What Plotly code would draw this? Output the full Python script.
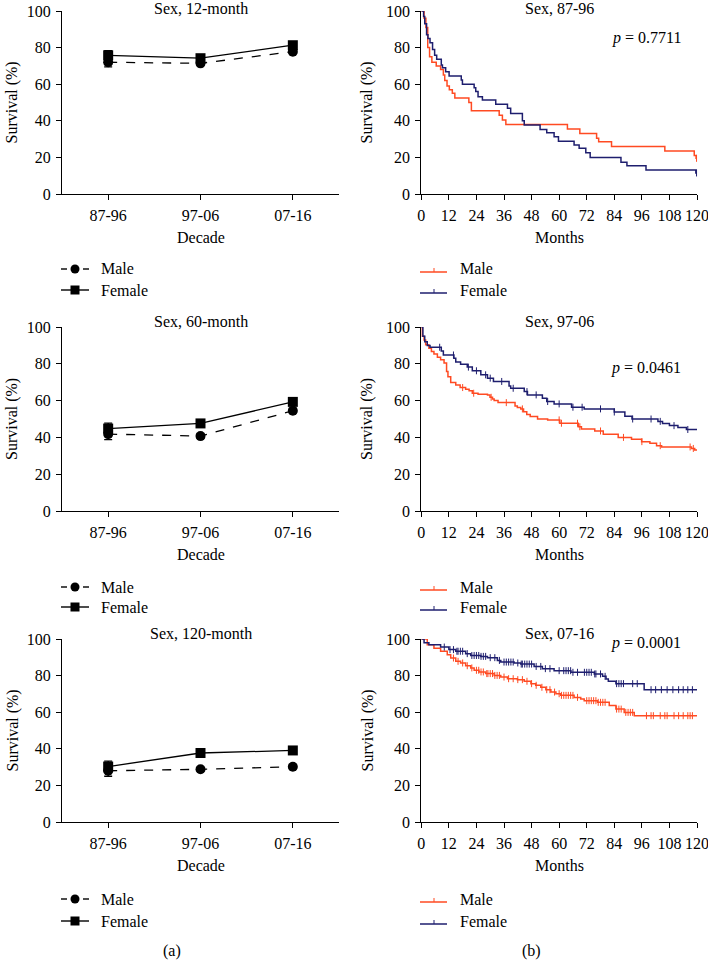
import plotly.graph_objects as go

# ---------------- data ----------------
decades = ["87-96", "97-06", "07-16"]

male_12 = [72.0, 71.4, 77.8]
female_12 = [75.8, 74.2, 81.3]
male_12_err = [2.5, 1.0, 1.0]
female_12_err = [2.5, 1.0, 1.2]

male_60 = [41.8, 40.7, 54.5]
female_60 = [44.8, 47.6, 59.3]
male_60_err = [3.0, 1.2, 1.2]
female_60_err = [3.0, 1.2, 1.5]

male_120 = [28.0, 28.8, 30.2]
female_120 = [30.3, 37.7, 39.1]
male_120_err = [3.0, 1.0, 1.2]
female_120_err = [3.0, 1.2, 1.5]

# Kaplan-Meier steps: (time in months, survival %)
km1_male_t = [0, 1.2, 2.0, 2.8, 3.6, 4.6, 6.5, 8.4, 9.6, 10.2, 11.2, 12.2, 13.5, 14.6, 20.7, 21.8,
              33.9, 35.3, 36.8, 63.6, 69.0, 76.3, 77.2, 82.8, 106.0, 118.8, 119.6, 120]
km1_male_s = [100, 96, 91, 80, 75, 72, 70, 68, 65, 62, 59, 57, 55, 52.5, 50, 45.5,
              43, 40.5, 38, 35.5, 33, 30.5, 28.5, 26, 23.5, 21, 19.5, 19.5]
km1_female_t = [0, 1.0, 1.5, 2.3, 2.9, 3.8, 4.9, 5.8, 6.7, 8.7, 9.2, 10.6, 12.1, 17.4, 17.9, 23.0,
                23.7, 24.7, 26.6, 32.4, 37.5, 38.9, 44.0, 44.8, 51.7, 54.6, 57.8, 59.7, 66.5, 68.7,
                71.6, 73.5, 86.9, 89.5, 97.8, 101.0, 119.5, 120]
km1_female_s = [100, 97, 93, 87, 85, 82.7, 79, 75.8, 73.6, 70.5, 69, 66.8, 64.5, 62.3, 60, 58,
                56, 53.2, 51.4, 49, 46.8, 44, 40, 37.7, 35.3, 33.5, 31.3, 28.8, 26.8, 25,
                22.6, 20, 17.3, 15.5, 13.1, 13.1, 11.5, 11.5]
km1_male_cens = [119.8]
km1_female_cens = [119.8]

km2_male_t = [0, 0.4, 1.2, 1.9, 3.3, 4.4, 5.5, 7.0, 8.4, 9.9, 11.0, 11.6, 12.8, 15.0, 16.9, 19.3,
              20.8, 22.2, 24.7, 28.8, 29.9, 31.0, 31.7, 33.4, 40.8, 41.8, 43.3, 44.5, 45.9, 47.4,
              50.6, 55.0, 60.3, 68.3, 69.7, 75.5, 79.2, 85.7, 91.5, 95.9, 99.5, 102.4, 104.6,
              117.6, 119.0, 120]
km2_male_s = [100, 95, 93, 90.4, 88.5, 86.7, 85.3, 83.6, 82.2, 80.4, 75.8, 73, 69.8, 68.5, 67.1, 66.2,
              65.3, 64, 63.5, 63, 61.8, 60.9, 60, 58.9, 57.1, 56.2, 55.5, 54, 52.5, 51.3,
              50, 49.5, 47.7, 45.8, 44.6, 43.5, 41.7, 40, 39, 37.7, 36.8, 35.5, 34.8,
              34, 33.2, 33.2]
km2_female_t = [0, 0.7, 1.5, 2.6, 3.8, 8.7, 9.6, 14.2, 15.0, 17.1, 20.0, 22.2, 25.9, 28.8, 31.4,
                38.2, 38.9, 44.8, 46.2, 52.7, 54.6, 57.8, 65.4, 70.9, 84.0, 88.6, 91.7, 103.0,
                105.0, 108.0, 111.7, 115.4, 120]
km2_female_s = [100, 95, 92, 90, 89, 87, 84.8, 83, 81, 79.8, 78.2, 76.2, 74, 72.2, 70.4,
                68, 66.7, 64.9, 63.1, 61.3, 59.5, 58.2, 56.4, 55.5, 53.8, 51.5, 50, 48.7,
                47.5, 46.4, 45.4, 44.3, 44.3]
km2_male_cens = [18, 22.8, 30.4, 37, 44, 60, 61, 68, 69, 78, 88, 96, 104, 117, 118.4]
km2_female_cens = [8, 14, 20.5, 24, 28, 30, 35, 40, 46, 50, 55, 60, 66, 70, 78, 84, 92, 100, 104, 110, 116]

km3_male_t = [0, 2.6, 5.5, 8.4, 11.3, 12.8, 15.0, 17.1, 19.3, 21.5, 23.0, 25.1, 28.0, 31.7, 34.6,
              37.5, 41.8, 44.8, 47.7, 49.8, 52.0, 54.2, 56.4, 58.6, 60.7, 66.5, 69.4, 70.9, 76.7,
              81.8, 84.7, 88.3, 92.7, 120]
km3_male_s = [100, 96.9, 95, 93.3, 91.4, 89.6, 87.8, 86.9, 85.4, 84.2, 82.9, 82, 81.1, 80.1, 79.2,
              78.3, 77.8, 76.9, 75.6, 74.7, 73.6, 72.3, 71, 70.1, 69.2, 68.1, 67.2, 66.3, 65.4,
              63.6, 61.7, 59.9, 58.1, 58.1]
km3_female_t = [0, 1.2, 3.3, 8.4, 12.0, 15.0, 19.3, 21.5, 25.9, 28.8, 33.1, 34.6, 40.4, 43.3, 49.1,
                52.7, 57.8, 65.1, 75.3, 78.9, 80.4, 81.4, 84.7, 97.0, 120]
km3_female_s = [100, 98, 96.9, 95.6, 94.2, 93.3, 92, 91, 90.5, 89.8, 88.3, 87.4, 86.9, 86.3, 85,
                83.8, 82.7, 81.8, 80.9, 79.6, 78.1, 76.9, 75.6, 72.3, 72.3]
km3_male_cens = [14, 16, 18, 20, 22, 24, 25, 26, 27, 28.5, 29, 30, 31, 32, 33, 34, 36, 38, 40, 42, 44,
                 46, 48, 50, 52.5, 54.6, 56, 58, 60, 61, 62, 63, 64, 65, 66, 68, 72, 73, 74, 75, 76, 77,
                 78, 79, 80, 85, 86, 87, 89, 90, 91, 92, 98, 100, 101, 104, 106, 107, 110, 112, 114,
                 116, 117, 118]
km3_female_cens = [10, 12.5, 14, 15.5, 16, 17, 18, 20, 22, 23, 24, 25, 26, 27, 28, 30, 32, 34, 36, 37,
                   38, 39, 40, 42, 43.5, 44, 45, 46, 47, 48, 50, 52, 54, 56, 60, 62, 63, 64, 65, 66, 68,
                   71, 72, 73, 74, 75.5, 76, 78, 80, 85, 86, 87, 88, 92, 94, 100, 102, 104.5, 107,
                   109.5, 112, 114, 116, 118]

# ---------------- styling ----------------
W, H = 708, 961
FONT = "Liberation Serif, Times New Roman, serif"
FS = 16
RED = "#FF4A22"
NAVY = "#1E1E6E"


def px_x(p):
    return p / W


def px_y(p):
    return 1 - p / H


left_dom = [px_x(62), px_x(339)]
right_dom = [px_x(421.3), px_x(697)]
rows = [(11, 194), (327, 511), (639, 822)]  # (y of 100, y of 0) in pixels
title_y = [9, 321, 633]
legend_rows = [(269, 290), (587, 607), (899, 921)]

fig = go.Figure()


def axis_common():
    return dict(showline=True, linecolor="black", linewidth=1.3, ticks="outside", ticklen=5,
                tickwidth=1.3, tickcolor="black", showgrid=False, zeroline=False,
                tickfont=dict(family=FONT, size=FS, color="black"), ticklabelstandoff=2,
                ticklabeloverflow="allow")


def km_traces(t, s, cens, color, xa, ya):
    line = go.Scatter(x=t, y=s, mode="lines", line=dict(color=color, width=1.5, shape="hv"),
                      xaxis=xa, yaxis=ya, cliponaxis=False, showlegend=False, hoverinfo="skip")
    cy = []
    for c in cens:
        idx = max(i for i, tt in enumerate(t) if tt <= c)
        cy.append(s[idx])
    marks = go.Scatter(x=cens, y=cy, mode="markers",
                       marker=dict(symbol="line-ns", size=5, color=color, line=dict(color=color, width=1)),
                       xaxis=xa, yaxis=ya, cliponaxis=False, showlegend=False, hoverinfo="skip")
    return [line, marks]


left_data = [
    (male_12, male_12_err, female_12, female_12_err, "Sex, 12-month"),
    (male_60, male_60_err, female_60, female_60_err, "Sex, 60-month"),
    (male_120, male_120_err, female_120, female_120_err, "Sex, 120-month"),
]
right_data = [
    (km1_male_t, km1_male_s, km1_male_cens, km1_female_t, km1_female_s, km1_female_cens, "Sex, 87-96", "0.7711"),
    (km2_male_t, km2_male_s, km2_male_cens, km2_female_t, km2_female_s, km2_female_cens, "Sex, 97-06", "0.0461"),
    (km3_male_t, km3_male_s, km3_male_cens, km3_female_t, km3_female_s, km3_female_cens, "Sex, 07-16", "0.0001"),
]
pval_y = [38, 368, 643]

annotations = []
shapes = []
layout_axes = {}
tfont = dict(family=FONT, size=FS, color="black")


def ann(text, x, y, anchor="center", angle=0):
    annotations.append(dict(text=text, x=px_x(x), y=px_y(y), xref="paper", yref="paper",
                            showarrow=False, font=tfont, xanchor=anchor, yanchor="middle",
                            textangle=angle))


def pline(x0, x1, y0, y1, color, width=1.4, dash="solid"):
    shapes.append(dict(type="line", xref="paper", yref="paper", x0=px_x(x0), x1=px_x(x1),
                       y0=px_y(y0), y1=px_y(y1), line=dict(color=color, width=width, dash=dash)))


for r, (y100, y0) in enumerate(rows):
    ydom = [px_y(y0), px_y(y100)]
    li = 2 * r + 1
    ri = 2 * r + 2
    xa_l, ya_l = f"x{li}", f"y{li}"
    xa_r, ya_r = f"x{ri}", f"y{ri}"

    # ---- left panel ----
    m, me, f, fe, title = left_data[r]
    fig.add_trace(go.Scatter(x=decades, y=m, mode="lines+markers", name="Male",
                             line=dict(color="black", width=1.3, dash="dash"),
                             marker=dict(symbol="circle", size=10, color="black"),
                             error_y=dict(type="data", array=me, color="black", thickness=1.3, width=4),
                             xaxis=xa_l, yaxis=ya_l, cliponaxis=False, showlegend=False))
    fig.add_trace(go.Scatter(x=decades, y=f, mode="lines+markers", name="Female",
                             line=dict(color="black", width=1.3),
                             marker=dict(symbol="square", size=10, color="black"),
                             error_y=dict(type="data", array=fe, color="black", thickness=1.3, width=4),
                             xaxis=xa_l, yaxis=ya_l, cliponaxis=False, showlegend=False))
    xl = axis_common()
    xl.update(domain=left_dom, anchor=ya_l, type="category", categoryorder="array",
              categoryarray=decades, range=[-0.5, 2.5])
    yl = axis_common()
    yl.update(domain=ydom, anchor=xa_l, range=[0, 100], tickvals=[0, 20, 40, 60, 80, 100])
    layout_axes["xaxis" if li == 1 else f"xaxis{li}"] = xl
    layout_axes["yaxis" if li == 1 else f"yaxis{li}"] = yl

    # ---- right panel ----
    mt, ms, mc, ft, fs, fc, rtitle, pv = right_data[r]
    for tr in km_traces(mt, ms, mc, RED, xa_r, ya_r):
        fig.add_trace(tr)
    for tr in km_traces(ft, fs, fc, NAVY, xa_r, ya_r):
        fig.add_trace(tr)
    xr = axis_common()
    xr.update(domain=right_dom, anchor=ya_r, range=[0, 120], tickvals=list(range(0, 121, 12)))
    yr = axis_common()
    yr.update(domain=ydom, anchor=xa_r, range=[0, 100], tickvals=[0, 20, 40, 60, 80, 100])
    layout_axes[f"xaxis{ri}"] = xr
    layout_axes[f"yaxis{ri}"] = yr

    # ---- manual legends ----
    ym, yf = legend_rows[r]
    pline(61, 67, ym, ym, "black", 1.4)
    pline(83, 89, ym, ym, "black", 1.4)
    shapes.append(dict(type="circle", xref="paper", yref="paper", x0=px_x(70.5), x1=px_x(79.5),
                       y0=px_y(ym + 4.5), y1=px_y(ym - 4.5), fillcolor="black", line=dict(color="black", width=0)))
    ann("Male", 99, ym, "left")
    pline(61, 89, yf, yf, "black", 1.4)
    shapes.append(dict(type="rect", xref="paper", yref="paper", x0=px_x(70.5), x1=px_x(79.5),
                       y0=px_y(yf + 4.5), y1=px_y(yf - 4.5), fillcolor="black", line=dict(color="black", width=0)))
    ann("Female", 99, yf, "left")
    pline(420, 447, ym + 3, ym + 3, RED, 1.5)
    pline(434, 434, ym + 3, ym - 1, RED, 1)
    ann("Male", 458, ym, "left")
    pline(420, 447, yf + 3, yf + 3, NAVY, 1.5)
    pline(434, 434, yf + 3, yf - 1, NAVY, 1)
    ann("Female", 458, yf, "left")

    # ---- titles and labels ----
    ann(title, 200.5, title_y[r])
    ann(rtitle, 559, title_y[r])
    ann("<i>p</i> = " + pv, 646, pval_y[r])
    ann("Decade", 200.5, y0 + 43)
    ann("Months", 559, y0 + 43)
    ymid = (y100 + y0) / 2
    ann("Survival (%)", 12, ymid, "center", -90)
    ann("Survival (%)", 367, ymid, "center", -90)

ann("(a)", 172, 951)
ann("(b)", 531, 951)

fig.update_layout(width=W, height=H, margin=dict(l=0, r=0, t=0, b=0, autoexpand=False),
                  paper_bgcolor="white", plot_bgcolor="white", showlegend=False,
                  annotations=annotations, shapes=shapes,
                  font=dict(family=FONT, color="black"), **layout_axes)

fig.write_html("out.html", config={"displayModeBar": False},
               post_script="document.body.style.margin='0';document.body.style.padding='0';")
